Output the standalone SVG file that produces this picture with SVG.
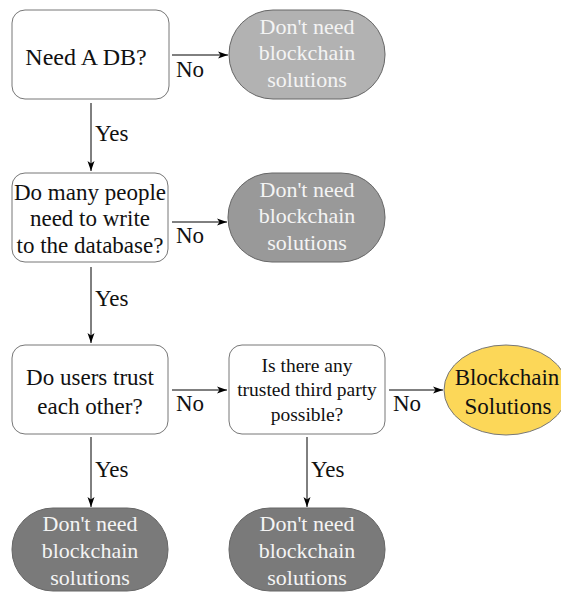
<svg xmlns="http://www.w3.org/2000/svg" width="561" height="594" viewBox="0 0 561 594">
<defs>
<marker id="ah" viewBox="0 0 10 10" refX="10" refY="5" markerWidth="10" markerHeight="10" markerUnits="userSpaceOnUse" orient="auto">
<path d="M0,1.5 L10,5 L0,8.5 L2.5,5 Z" fill="#000"/>
</marker>
<style>
text{text-anchor:middle;font-family:'Liberation Serif',serif}
.q{fill:#fff;stroke:#777;stroke-width:1}
.t{fill:#111;font-size:23px}
.s{fill:#111;font-size:19.5px}
.w{fill:#f4f4f4;font-size:22px}
.lbl{fill:#111;font-size:23px;text-anchor:start}
.c{stroke:#000;stroke-width:1;fill:none;marker-end:url(#ah)}
.g{stroke:#666;stroke-width:1}
</style>
</defs>
<g id="connectors">
<line class="c" x1="172" y1="55" x2="228" y2="55"/>
<text class="lbl" x="176" y="77">No</text>
<line class="c" x1="91" y1="103" x2="91" y2="171"/>
<text class="lbl" x="95" y="141">Yes</text>
<line class="c" x1="172" y1="222" x2="227" y2="222"/>
<text class="lbl" x="176" y="243">No</text>
<line class="c" x1="91" y1="267" x2="91" y2="343"/>
<text class="lbl" x="95" y="306">Yes</text>
<line class="c" x1="172" y1="390" x2="227" y2="390"/>
<text class="lbl" x="176" y="411">No</text>
<line class="c" x1="389" y1="390" x2="443" y2="390"/>
<text class="lbl" x="393" y="411">No</text>
<line class="c" x1="91" y1="437" x2="91" y2="507"/>
<text class="lbl" x="95" y="477">Yes</text>
<line class="c" x1="307" y1="437" x2="307" y2="507"/>
<text class="lbl" x="311" y="477">Yes</text>
</g>
<g id="need-db">
<rect class="q" x="12" y="10" width="157" height="89" rx="13"/>
<text class="t" x="86" y="65" style="font-size:24px">Need A DB?</text>
</g>
<g id="no1">
<rect class="g" x="229" y="10" width="156" height="89" rx="44" fill="#b2b2b2"/>
<text class="w" x="307" y="34">Don't need</text>
<text class="w" x="307" y="60">blockchain</text>
<text class="w" x="307" y="87">solutions</text>
</g>
<g id="many-writers">
<rect class="q" x="12" y="173" width="156" height="89" rx="13"/>
<text class="t" x="90" y="200">Do many people</text>
<text class="t" x="90" y="226">need to write</text>
<text class="t" x="90" y="253">to the database?</text>
</g>
<g id="no2">
<rect class="g" x="228" y="173" width="157" height="89" rx="44" fill="#999"/>
<text class="w" x="307" y="197">Don't need</text>
<text class="w" x="307" y="223">blockchain</text>
<text class="w" x="307" y="250">solutions</text>
</g>
<g id="trust">
<rect class="q" x="12" y="345" width="156" height="89" rx="13"/>
<text class="t" x="90" y="385">Do users trust</text>
<text class="t" x="90" y="414">each other?</text>
</g>
<g id="third-party">
<rect class="q" x="229" y="345" width="156" height="89" rx="13"/>
<text class="s" x="307" y="372">Is there any</text>
<text class="s" x="307" y="396">trusted third party</text>
<text class="s" x="307" y="421">possible?</text>
</g>
<g id="blockchain">
<ellipse cx="506" cy="390" rx="62" ry="45" fill="#fcd758" stroke="#777" stroke-width="1"/>
<text class="t" x="507" y="385">Blockchain</text>
<text class="t" x="508" y="414">Solutions</text>
</g>
<g id="no3">
<rect class="g" x="12" y="508" width="156" height="83" rx="41" fill="#7a7a7a"/>
<text class="w" x="90" y="531">Don't need</text>
<text class="w" x="90" y="558">blockchain</text>
<text class="w" x="90" y="585">solutions</text>
</g>
<g id="no4">
<rect class="g" x="229" y="508" width="156" height="83" rx="41" fill="#7a7a7a"/>
<text class="w" x="307" y="531">Don't need</text>
<text class="w" x="307" y="558">blockchain</text>
<text class="w" x="307" y="585">solutions</text>
</g>
</svg>
